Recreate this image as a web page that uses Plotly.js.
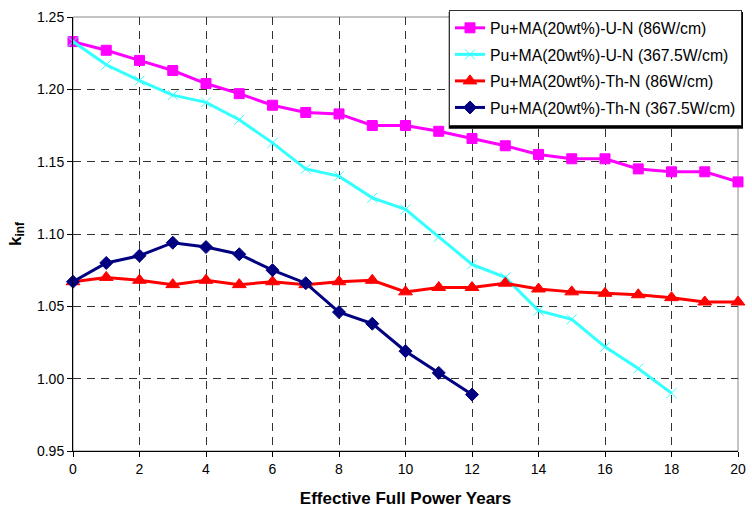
<!DOCTYPE html>
<html>
<head>
<meta charset="utf-8">
<script src="https://cdn.plot.ly/plotly-3.0.1.min.js"></script>
<style>html,body{margin:0;padding:0;background:#fff;}#chart{width:752px;height:512px;}</style>
</head>
<body>
<div id="chart"></div>
<script>
const years = [0,1,2,3,4,5,6,7,8,9,10,11,12,13,14,15,16,17,18,19,20];
const seriesNames = [
  "Pu+MA(20wt%)-U-N (86W/cm)",
  "Pu+MA(20wt%)-U-N (367.5W/cm)",
  "Pu+MA(20wt%)-Th-N (86W/cm)",
  "Pu+MA(20wt%)-Th-N (367.5W/cm)"
];
const uN86 = [1.233,1.227,1.220,1.213,1.204,1.197,1.189,1.184,1.183,1.175,1.175,1.171,1.166,1.161,1.155,1.152,1.152,1.145,1.143,1.143,1.136];
const uN367 = [1.233,1.217,1.206,1.196,1.191,1.179,1.163,1.145,1.140,1.125,1.117,1.098,1.079,1.070,1.047,1.041,1.022,1.007,0.990];
const thN86 = [1.067,1.070,1.068,1.065,1.068,1.065,1.067,1.065,1.067,1.068,1.060,1.063,1.063,1.066,1.062,1.060,1.059,1.058,1.056,1.053,1.053];
const thN367 = [1.067,1.080,1.085,1.094,1.091,1.086,1.075,1.066,1.046,1.038,1.019,1.004,0.989];
const xTicks = [0,2,4,6,8,10,12,14,16,18,20];

const font = "Liberation Sans, Arial, sans-serif";
function tr(y, name, color, symbol, size) {
  return {
    x: years.slice(0, y.length), y: y, name: name, type: "scatter", mode: "lines+markers",
    line: {color: color, width: 3},
    marker: {symbol: symbol, size: size, color: color, line: {color: color, width: 1}},
    cliponaxis: false, legendgroup: name
  };
}
const data = [
  tr(uN86, seriesNames[0], "#FF00FF", "square", 10),
  tr(uN367, seriesNames[1], "#33FFFF", "x-thin-open", 10),
  tr(thN86, seriesNames[2], "#FF0000", "triangle-up", 12),
  tr(thN367, seriesNames[3], "#000080", "diamond", 10)
];
const layout = {
  width: 752, height: 512,
  margin: {l: 73, r: 10, t: 16, b: 61},
  paper_bgcolor: "#fff", plot_bgcolor: "#fff",
  font: {family: font, size: 14, color: "#000"},
  showlegend: true,
  legend: {
    x: 1.006, xanchor: "right", y: 1.016, yanchor: "top",
    bgcolor: "#fff", bordercolor: "#333", borderwidth: 1,
    font: {family: font, size: 15.8, color: "#000"},
    traceorder: "grouped", tracegroupgap: 3
  },
  xaxis: {
    range: [0, 20], tickvals: xTicks, ticktext: xTicks.map(String),
    showgrid: true, gridcolor: "#333", gridwidth: 1, griddash: "8px,6px",
    showline: true, linecolor: "#000", linewidth: 1,
    ticks: "outside", ticklen: 5, tickcolor: "#000", zeroline: false,
    tickfont: {size: 14},
    title: {text: "<b>Effective Full Power Years</b>", font: {size: 17}, standoff: 16}
  },
  yaxis: {
    range: [0.95, 1.25], dtick: 0.05, tick0: 0.95, tickformat: ".2f",
    showgrid: true, gridcolor: "#333", gridwidth: 1, griddash: "8px,6px",
    showline: true, linecolor: "#000", linewidth: 1,
    ticks: "outside", ticklen: 5, tickcolor: "#000", zeroline: false,
    tickfont: {size: 14},
    title: {text: "<b>k<sub>inf</sub></b>", font: {size: 17}, standoff: 11}
  },
  shapes: [
    {type: "rect", xref: "paper", yref: "paper", x0: 0, x1: 1, y0: 0, y1: 1,
     line: {color: "#888", width: 1}, layer: "below"},
    {type: "rect", xref: "paper", yref: "paper", x0: 0.565, x1: 1.0075, y0: 0.7425, y1: 1.0115,
     fillcolor: "#000", line: {width: 0}, layer: "above"}
  ]
};
Plotly.newPlot("chart", data, layout, {displayModeBar: false, staticPlot: true});
</script>
</body>
</html>
